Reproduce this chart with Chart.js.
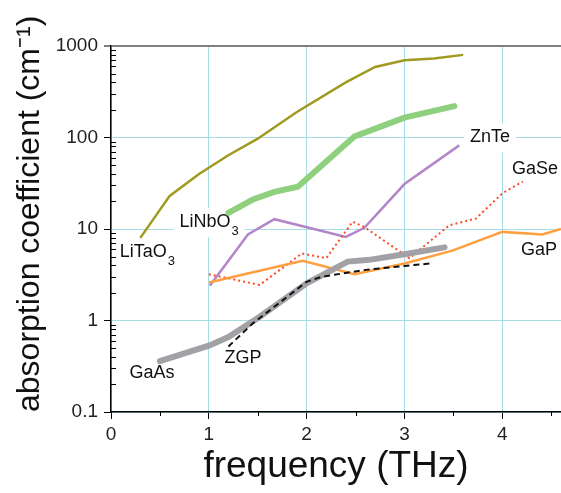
<!DOCTYPE html>
<html>
<head>
<meta charset="utf-8">
<script src="https://cdn.jsdelivr.net/npm/chart.js@4.4.1/dist/chart.umd.min.js"></script>
<style>
  html, body { margin: 0; padding: 0; background: #fff; }
  #wrap { width: 561px; height: 493px; }
</style>
</head>
<body>
<div id="wrap"><canvas id="myChart"></canvas></div>
<script>
// values: frequency (THz) and absorption (cm^-1)
const litaoFreq = [0.3, 0.6, 0.9, 1.2, 1.5, 1.9, 2.4, 2.7, 3.0, 3.3, 3.6];
const litaoAbs = [8, 23, 40, 64, 97, 190, 400, 590, 700, 730, 800];

const linboFreq = [1.2, 1.45, 1.67, 1.91, 2.49, 3.0, 3.51];
const linboAbs = [15, 21, 25.5, 29, 103, 165, 220];

const znteFreq = [1.01, 1.4, 1.67, 2.4, 2.59, 3.0, 3.56];
const znteAbs = [2.4, 8.7, 12.8, 8.2, 10.3, 31, 82];

const gaseFreq = [1.0, 1.52, 1.95, 2.2, 2.47, 2.59, 3.05, 3.46, 3.73, 4.0, 4.21];
const gaseAbs = [3.2, 2.45, 5.4, 4.8, 12, 10.5, 4.8, 11, 13, 24.5, 33];

const gapFreq = [1.0, 1.96, 2.49, 3.0, 3.49, 4.0, 4.41, 4.6];
const gapAbs = [2.6, 4.5, 3.2, 4.2, 5.8, 9.3, 8.7, 10];

const gaasFreq = [0.5, 1.0, 1.2, 1.52, 2.0, 2.42, 2.64, 3.0, 3.41];
const gaasAbs = [0.36, 0.53, 0.66, 1.1, 2.55, 4.4, 4.6, 5.3, 6.3];

const zgpFreq = [1.2, 1.45, 2.0, 2.15, 2.58, 3.0, 3.27];
const zgpAbs = [0.52, 0.93, 2.65, 3.0, 3.55, 3.95, 4.2];

const xTicks = [0, 1, 2, 3, 4];
const xTickLabels = ['0', '1', '2', '3', '4'];
const yTicks = [0.1, 1, 10, 100, 1000];
const yTickLabels = ['0.1', '1', '10', '100', '1000'];

// curve names, placed in data units
const curveLabels = [
  { text: 'LiTaO', sub: '3', x: 0.09, y: 5.6 },
  { text: 'LiNbO', sub: '3', x: 0.70, y: 11.9 },
  { text: 'ZnTe', sub: '', x: 3.67, y: 100 },
  { text: 'GaSe', sub: '', x: 4.10, y: 45 },
  { text: 'GaP', sub: '', x: 4.19, y: 5.9 },
  { text: 'GaAs', sub: '', x: 0.19, y: 0.267 },
  { text: 'ZGP', sub: '', x: 1.16, y: 0.39 }
];

function pairs(xs, ys) {
  return xs.map((x, i) => ({ x: x, y: ys[i] }));
}

const FONT = '"Liberation Sans", Arial, Helvetica, sans-serif';

const labelPlugin = {
  id: 'curveLabels',
  beforeDatasetsDraw(chart) {
    const { ctx, scales: { x, y } } = chart;
    ctx.save();
    ctx.textBaseline = 'middle';
    curveLabels.forEach(l => {
      const px = x.getPixelForValue(l.x);
      const py = y.getPixelForValue(l.y);
      ctx.font = '18px ' + FONT;
      const w1 = ctx.measureText(l.text).width;
      ctx.font = '13px ' + FONT;
      const w2 = l.sub ? ctx.measureText(l.sub).width + 1 : 0;
      ctx.fillStyle = '#fff';
      ctx.fillRect(px - 6, py - 14, w1 + w2 + 12, 29);
      ctx.fillStyle = '#111';
      ctx.font = '18px ' + FONT;
      ctx.fillText(l.text, px, py);
      if (l.sub) {
        ctx.font = '13px ' + FONT;
        ctx.fillText(l.sub, px + w1 + 1, py + 9);
      }
    });
    ctx.restore();
  }
};

const minorTickPlugin = {
  id: 'minorTicks',
  afterDraw(chart) {
    const { ctx, scales: { x, y } } = chart;
    ctx.save();
    ctx.strokeStyle = '#000';
    ctx.lineWidth = 1;
    ctx.beginPath();
    for (let dec = 0.1; dec < 1000; dec *= 10) {
      for (let m = 2; m <= 9; m++) {
        const py = Math.round(y.getPixelForValue(dec * m)) + 0.5;
        ctx.moveTo(x.left, py);
        ctx.lineTo(x.left + 5, py);
      }
    }
    for (let v = 0.5; v < 4.6; v += 1) {
      const px = Math.round(x.getPixelForValue(v)) + 0.5;
      ctx.moveTo(px, y.bottom);
      ctx.lineTo(px, y.bottom + 4);
    }
    ctx.stroke();
    ctx.restore();
  }
};

const ctx = document.getElementById('myChart');

new Chart(ctx, {
  type: 'line',
  data: {
    datasets: [
      { label: 'ZGP', data: pairs(zgpFreq, zgpAbs), borderColor: '#111', borderWidth: 2, borderDash: [6, 4] },
      { label: 'GaAs', data: pairs(gaasFreq, gaasAbs), borderColor: '#a2a2a6', borderWidth: 6, borderCapStyle: 'round' },
      { label: 'GaP', data: pairs(gapFreq, gapAbs), borderColor: '#ffa040', borderWidth: 2.5 },
      { label: 'GaSe', data: pairs(gaseFreq, gaseAbs), borderColor: '#ff4a24', borderWidth: 2, borderDash: [2, 3] },
      { label: 'ZnTe', data: pairs(znteFreq, znteAbs), borderColor: '#b486c8', borderWidth: 2.5 },
      { label: 'LiNbO3', data: pairs(linboFreq, linboAbs), borderColor: '#8fd07f', borderWidth: 6, borderCapStyle: 'round' },
      { label: 'LiTaO3', data: pairs(litaoFreq, litaoAbs), borderColor: '#a09a20', borderWidth: 2.5 }
    ]
  },
  options: {
    responsive: true,
    maintainAspectRatio: false,
    animation: false,
    layout: { padding: { top: 46, right: 0, left: 0, bottom: 0 } },
    elements: { point: { radius: 0 }, line: { tension: 0, fill: false } },
    plugins: { legend: { display: false }, tooltip: { enabled: false } },
    scales: {
      x: {
        type: 'linear',
        min: 0,
        max: 4.6,
        afterFit(scale) { scale.height = 81; },
        afterBuildTicks(scale) { scale.ticks = xTicks.map(v => ({ value: v })); },
        ticks: {
          color: '#222',
          padding: 4,
          font: { family: FONT, size: 19 },
          callback: (v, i) => xTickLabels[i]
        },
        grid: {
          color: '#a6dde6',
          lineWidth: 1,
          tickLength: 7,
          tickColor: '#000'
        },
        border: { color: '#000', width: 1.5 },
        title: {
          display: true,
          text: 'frequency (THz)',
          color: '#111',
          font: { family: FONT, size: 37 },
          padding: { top: 0, bottom: 4 }
        }
      },
      y: {
        type: 'logarithmic',
        min: 0.1,
        max: 1000,
        afterFit(scale) { scale.width = 111; },
        afterBuildTicks(scale) { scale.ticks = yTicks.map(v => ({ value: v })); },
        ticks: {
          color: '#222',
          padding: 6,
          font: { family: FONT, size: 19 },
          callback: (v, i) => yTickLabels[i]
        },
        grid: {
          color: c => (c.tick && c.tick.value === 1000 ? '#808080' : '#a6dde6'),
          lineWidth: c => (c.tick && c.tick.value === 1000 ? 2 : 1),
          tickLength: 7,
          tickColor: c => (c.tick && c.tick.value === 1000 ? '#808080' : '#000')
        },
        border: { color: '#000', width: 1.5 },
        title: {
          display: true,
          text: 'absorption coefficient (cm\u207B\u00B9)',
          align: 'start',
          color: '#111',
          font: { family: FONT, size: 32 },
          padding: { top: 11, bottom: 0 }
        }
      }
    }
  },
  plugins: [labelPlugin, minorTickPlugin]
});
</script>
</body>
</html>
